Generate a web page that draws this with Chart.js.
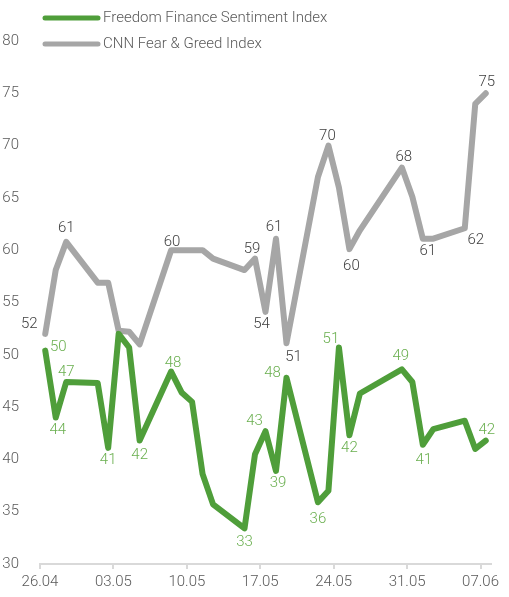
<!DOCTYPE html>
<html>
<head>
<meta charset="utf-8">
<script src="https://cdn.jsdelivr.net/npm/chart.js@4.4.1/dist/chart.umd.min.js"></script>
<style>
  html, body { margin: 0; padding: 0; background: #ffffff; }
  #wrap { width: 509px; height: 597px; }
</style>
</head>
<body>
<div id="wrap"><canvas id="sentimentChart"></canvas></div>
<script>
// Days counted from 26.04 (observation days only)
const dayOffsets = [0, 1, 2, 5, 6, 7, 8, 9, 12, 13, 14, 15, 16, 19, 20, 21, 22, 23, 26, 27, 28, 29, 30, 34, 35, 36, 37, 40, 41, 42];

const freedomValues = [50.4, 44.0, 47.4, 47.3, 41.1, 52.0, 50.7, 41.8, 48.4, 46.4, 45.5, 38.6, 35.7, 33.4, 40.5,
                       42.7, 38.9, 47.8, 35.9, 37.0, 50.7, 42.3, 46.3, 48.6, 47.4, 41.4, 42.9, 43.7, 41.0, 41.8];

const cnnValues = [52.0, 58.1, 60.8, 56.9, 56.9, 52.3, 52.2, 51.0, 60.0, 60.0, 60.0, 60.0, 59.2, 58.1, 59.2,
                   54.1, 61.1, 51.1, 67.0, 70.0, 66.0, 60.1, 61.9, 67.9, 65.1, 61.1, 61.1, 62.1, 74.0, 75.0];

const tickLabels = ['26.04', '03.05', '10.05', '17.05', '24.05', '31.05', '07.06'];
const seriesNames = ['Freedom Finance Sentiment Index', 'CNN Fear & Greed Index'];

// which points get a value label, and where it sits (dx, dy from the point)
const freedomLabelSpots = {
  0: [13, -3], 1: [2, 13], 2: [0, -10], 4: [0, 12], 7: [0, 15], 8: [2, -8], 13: [0, 14],
  15: [-11, -10], 16: [2, 12], 17: [-14, -5], 18: [0, 17], 20: [-8, -8], 21: [0, 13],
  23: [-1, -13], 25: [1, 15], 29: [1, -10]
};
const cnnLabelSpots = {
  0: [-16, -10], 2: [0, -14], 8: [1, -8], 14: [-3, -9], 15: [-4, 12], 16: [-2, -11],
  17: [7, 14], 19: [-1, -9], 21: [2, 17], 23: [2, -10], 25: [5, 13], 27: [11, 12], 29: [1, -11]
};

const greenLine = '#4f9e3a';
const greenText = '#6aaf4f';
const grayLine = '#a6a6a6';
const grayText = '#404040';
const axisText = '#595959';
const fontFamily = 'Roboto, "Liberation Sans", sans-serif';

function toPoints(values) {
  // each value sits in the middle of its day slot
  return values.map((v, i) => ({ x: dayOffsets[i] + 0.5, y: v }));
}

// Value labels drawn next to selected points
const valueLabels = {
  id: 'valueLabels',
  afterDatasetsDraw(chart) {
    const ctx = chart.ctx;
    const spots = [freedomLabelSpots, cnnLabelSpots];
    const colors = [greenText, grayText];
    ctx.save();
    ctx.font = '300 15px ' + fontFamily;
    ctx.textAlign = 'center';
    ctx.textBaseline = 'middle';
    chart.data.datasets.forEach((ds, di) => {
      const meta = chart.getDatasetMeta(di);
      ctx.fillStyle = colors[di];
      Object.keys(spots[di]).forEach((k) => {
        const el = meta.data[k];
        const off = spots[di][k];
        ctx.fillText(Math.round(ds.data[k].y).toString(), el.x + off[0], el.y + off[1]);
      });
    });
    ctx.restore();
  }
};

// Legend stacked in the top-left corner
const stackedLegend = {
  id: 'stackedLegend',
  afterDraw(chart) {
    const ctx = chart.ctx;
    const rows = [18, 44];
    ctx.save();
    chart.data.datasets.forEach((ds, i) => {
      ctx.strokeStyle = ds.borderColor;
      ctx.lineWidth = 5;
      ctx.lineCap = 'round';
      ctx.beginPath();
      ctx.moveTo(45, rows[i]);
      ctx.lineTo(98, rows[i]);
      ctx.stroke();
      ctx.fillStyle = axisText;
      ctx.font = '300 15px ' + fontFamily;
      ctx.textAlign = 'left';
      ctx.textBaseline = 'middle';
      ctx.fillText(ds.label, 103, rows[i]);
    });
    ctx.restore();
  }
};

const ctx = document.getElementById('sentimentChart').getContext('2d');
new Chart(ctx, {
  type: 'line',
  data: {
    datasets: [
      {
        label: seriesNames[0],
        data: toPoints(freedomValues),
        borderColor: greenLine,
        borderWidth: 6,
        borderJoinStyle: 'round',
        borderCapStyle: 'round',
        pointRadius: 0,
        tension: 0
      },
      {
        label: seriesNames[1],
        data: toPoints(cnnValues),
        borderColor: grayLine,
        borderWidth: 6,
        borderJoinStyle: 'round',
        borderCapStyle: 'round',
        pointRadius: 0,
        tension: 0
      }
    ]
  },
  options: {
    responsive: true,
    maintainAspectRatio: false,
    animation: false,
    layout: {
      padding: { top: 41, right: 18, left: 0, bottom: 0 }
    },
    plugins: {
      legend: { display: false },
      tooltip: { enabled: false }
    },
    scales: {
      x: {
        type: 'linear',
        min: 0,
        max: 43,
        afterBuildTicks: (scale) => {
          scale.ticks = tickLabels.map((_, i) => ({ value: i * 7 }));
        },
        afterFit: (scale) => { scale.height = 33; },
        grid: {
          drawOnChartArea: false,
          drawTicks: true,
          tickLength: 5,
          color: '#d9d9d9',
          lineWidth: 2
        },
        border: { color: '#d9d9d9', width: 2 },
        ticks: {
          autoSkip: false,
          maxRotation: 0,
          padding: 4,
          color: axisText,
          font: { family: fontFamily, size: 15, weight: '300' },
          callback: (value) => tickLabels[Math.round(value / 7)]
        }
      },
      y: {
        min: 30,
        max: 80,
        afterFit: (scale) => { scale.width = 40; },
        grid: { display: false },
        border: { display: false },
        ticks: {
          stepSize: 5,
          padding: 13,
          color: axisText,
          font: { family: fontFamily, size: 15, weight: '300' }
        }
      }
    }
  },
  plugins: [valueLabels, stackedLegend]
});
</script>
</body>
</html>
